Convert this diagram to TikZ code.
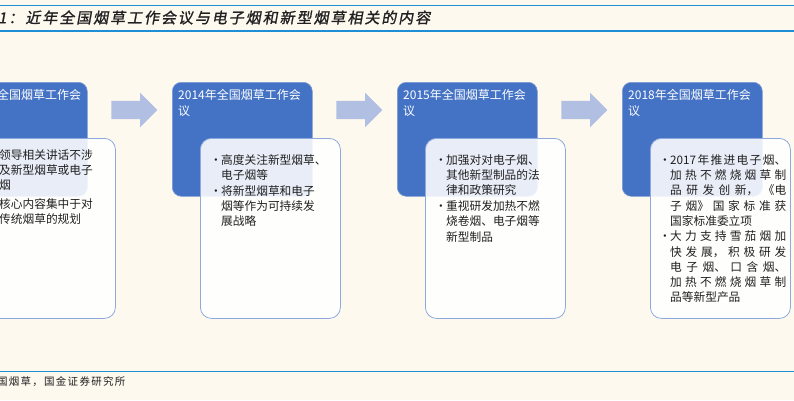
\documentclass[tikz,border=0pt]{standalone}
\usepackage{fontspec}
\setmainfont{Noto Sans CJK SC}
\newfontfamily\headfont[FakeSlant=0.18,FakeBold=1.2,LetterSpace=13]{Noto Sans CJK SC}
\newfontfamily\srcfont[LetterSpace=12]{Noto Sans CJK SC}
\usetikzlibrary{calc,positioning,shapes.arrows}
\XeTeXlinebreaklocale "zh"
\XeTeXlinebreakskip=0pt plus 1.5pt
\definecolor{paper}{HTML}{FEF9EF}
\definecolor{rulecol}{HTML}{1E8FD6}
\definecolor{stageblue}{HTML}{4472C4}
\definecolor{stageedge}{HTML}{7F9BD3}
\definecolor{noteedge}{HTML}{8EA9DB}
\definecolor{stepgray}{HTML}{B0BFE2}
\definecolor{ink}{HTML}{202020}
\newcommand{\itm}[2][0pt]{\par\vspace{#1}\noindent\makebox[11pt][l]{\textbullet}\parbox[t]{116pt}{#2}\par}
\tikzset{
  stagebox/.style={draw=stageedge,fill=stageblue,line width=0.6pt,rounded corners=9pt,minimum width=140pt,minimum height=114pt,anchor=north west,inner sep=0pt},
  notebox/.style={draw=noteedge,fill=white,fill opacity=0.88,line width=0.8pt,rounded corners=11pt,minimum width=140pt,minimum height=180pt,anchor=north west,inner sep=0pt},
  stagetitle/.style={anchor=north west,align=left,text=white,font=\fontsize{12}{16}\selectfont,inner sep=0pt},
  notetext/.style={anchor=north west,text width=127pt,align=justify,text=ink,font=\fontsize{11.7}{15.2}\selectfont,inner sep=0pt},
  steparrow/.style={single arrow,fill=stepgray,draw=none,minimum height=46pt,single arrow head extend=8pt,inner sep=0pt},
  rulebar/.style={draw=rulecol,line width=1.1pt}
}

\begin{document}
\begin{tikzpicture}[x=1pt,y=-1pt]
  \path[use as bounding box,clip] (0,0) rectangle (794,400);
  \fill[paper] (0,0) rectangle (794,400);
  \draw[rulebar] (0,5.5) -- (794,5.5);
  \draw[rulebar] (0,31) -- (794,31);
  \draw[rulebar] (0,371.5) -- (794,371.5);
  \node[anchor=west,inner sep=0pt,text=ink,font=\headfont\fontsize{15}{18}\selectfont] (ttl) at (-2,17.5) {1：近年全国烟草工作会议与电子烟和新型烟草相关的内容};
  \node[anchor=west,inner sep=0pt,text=ink,font=\srcfont\fontsize{10.5}{13}\selectfont] (src) at (-3,382) {国烟草，国金证券研究所};

  % stages
  \node[stagebox] (s13) at (-53,82) {};
  \node[stagebox] (s14) at (172,82) {};
  \node[stagebox] (s15) at (397,82) {};
  \node[stagebox] (s18) at (622,82) {};
  \node[stagetitle] (t13) at (-3,89) {全国烟草工作会};
  \node[stagetitle] (t14) at (178,89) {2014年全国烟草工作会\\议};
  \node[stagetitle] (t15) at (403,89) {2015年全国烟草工作会\\议};
  \node[stagetitle] (t18) at (628,89) {2018年全国烟草工作会\\议};

  \node[steparrow] (a1) at ($(s13.north east)!0.5!(s14.north west)+(0,28)$) {\rule{0pt}{18pt}};
  \node[steparrow] (a2) at ($(s14.north east)!0.5!(s15.north west)+(0,28)$) {\rule{0pt}{18pt}};
  \node[steparrow] (a3) at ($(s15.north east)!0.5!(s18.north west)+(0,28)$) {\rule{0pt}{18pt}};

  % notes
  \node[notebox] (n13) at (-25,138) {};
  \node[notebox] (n14) at (200,138) {};
  \node[notebox] (n15) at (425,138) {};
  \node[notebox] (n18) at (650,138) {};
  \node[notetext] (x13) at (-1,149) {\noindent 领导相关讲话不涉\newline 及新型烟草或电子\newline 烟\par\vspace{4pt}\noindent 核心内容集中于对\newline 传统烟草的规划};
  \node[notetext] (x14) at (210,149) {\itm{高度关注新型烟草、\newline 电子烟等}\itm[4pt]{将新型烟草和电子\newline 烟等作为可持续发\newline 展战略}};
  \node[notetext] (x15) at (435,149) {\itm{加强对对电子烟、\newline 其他新型制品的法\newline 律和政策研究}\itm[4pt]{重视研发加热不燃\newline 烧卷烟、电子烟等\newline 新型制品}};
  \node[notetext] (x18) at (659,149) {\itm{2017年推进电子烟、\linebreak 加热不燃烧烟草制\linebreak 品研发创新，《电\linebreak 子烟》国家标准获\linebreak 国家标准委立项}\itm[4pt]{大力支持雪茄烟加\linebreak 快发展，积极研发\linebreak 电子烟、口含烟、\linebreak 加热不燃烧烟草制\linebreak 品等新型产品}};
\end{tikzpicture}
\end{document}
